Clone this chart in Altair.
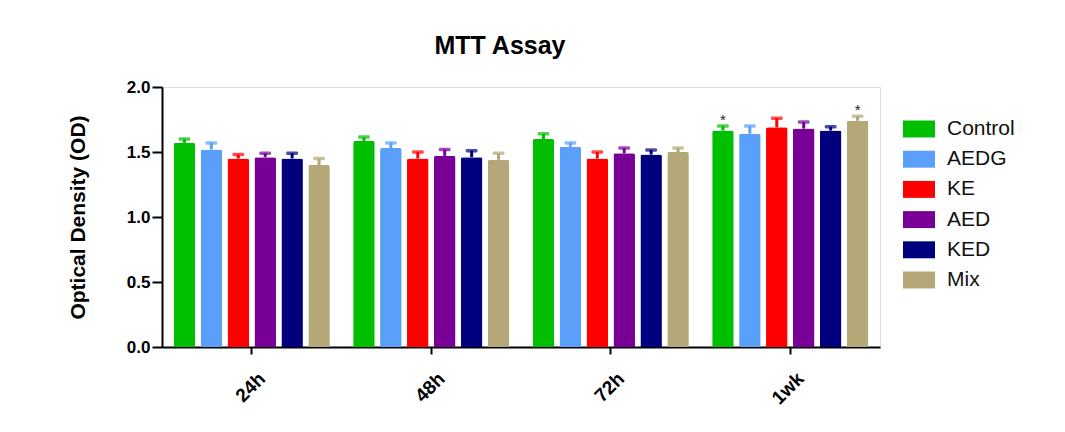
import altair as alt
import pandas as pd

groups = ["24h", "48h", "72h", "1wk"]
series = ["Control", "AEDG", "KE", "AED", "KED", "Mix"]
colors = ["#00BF00", "#5AA0FA", "#FF0000", "#780096", "#00007F", "#B4A878"]

means = {
    "Control": [1.57, 1.585, 1.60, 1.665],
    "AEDG": [1.52, 1.53, 1.54, 1.64],
    "KE": [1.45, 1.45, 1.45, 1.69],
    "AED": [1.46, 1.47, 1.49, 1.68],
    "KED": [1.45, 1.46, 1.48, 1.665],
    "Mix": [1.40, 1.44, 1.50, 1.74],
}
errors = {
    "Control": [0.03, 0.03, 0.04, 0.035],
    "AEDG": [0.05, 0.04, 0.03, 0.06],
    "KE": [0.03, 0.05, 0.05, 0.07],
    "AED": [0.03, 0.05, 0.04, 0.05],
    "KED": [0.04, 0.05, 0.035, 0.03],
    "Mix": [0.05, 0.05, 0.03, 0.035],
}
sig_group = ["1wk", "1wk"]
sig_series = ["Control", "Mix"]

rows = []
for s in series:
    for i, g in enumerate(groups):
        m = means[s][i]
        e = errors[s][i]
        rows.append({"group": g, "series": s, "mean": m, "upper": m + e})
df = pd.DataFrame(rows)

sig = pd.DataFrame({"group": sig_group, "series": sig_series})
sig = sig.merge(df, on=["group", "series"])

FONT = "Liberation Sans"

x = alt.X("group:N", sort=groups,
          scale=alt.Scale(paddingInner=0.1, paddingOuter=0.05),
          axis=alt.Axis(title=None, labelAngle=-45, labelFontSize=19, labelFontWeight="bold",
                        labelFont=FONT, labelColor="black", domainColor="black", domainWidth=2,
                        tickColor="black", tickWidth=2, tickSize=7, labelPadding=15, labelOffset=4))
xo = alt.XOffset("series:N", sort=series, scale=alt.Scale(paddingInner=0.2, paddingOuter=0.1))
y_scale = alt.Scale(domain=[0, 2])

color = alt.Color("series:N", sort=series, scale=alt.Scale(domain=series, range=colors),
                  legend=alt.Legend(title=None, orient="none", legendX=741, legendY=26,
                                    symbolType="M-1,-0.53h2v1.06h-2z", symbolSize=1024,
                                    symbolStrokeWidth=0, symbolOpacity=1,
                                    labelFontSize=21, labelFont=FONT, labelColor="#111",
                                    labelOffset=12, rowPadding=4.2, padding=0))

bars = alt.Chart(df).mark_bar(cornerRadiusTopLeft=2, cornerRadiusTopRight=2).encode(
    x=x, xOffset=xo,
    y=alt.Y("mean:Q", scale=y_scale,
            axis=alt.Axis(title="Optical Density (OD)", values=[0, 0.5, 1.0, 1.5, 2.0], format=".1f",
                          titleFontSize=21, titleFontWeight="bold", titleFont=FONT, titleColor="black",
                          titlePadding=38,
                          labelFontSize=17, labelFontWeight="bold", labelFont=FONT, labelColor="black",
                          domainColor="black", domainWidth=2, tickColor="black", tickWidth=2,
                          tickSize=10, grid=False, labelPadding=2)),
    color=color,
)

err = alt.Chart(df).mark_rule(strokeWidth=3).encode(
    x=x, xOffset=xo, y="mean:Q", y2="upper:Q",
    color=alt.Color("series:N", sort=series, scale=alt.Scale(domain=series, range=colors), legend=None),
)
caps = alt.Chart(df).mark_tick(thickness=3.5, size=12, cornerRadius=1.5).encode(
    x=x, xOffset=xo, y="upper:Q",
    color=alt.Color("series:N", sort=series, scale=alt.Scale(domain=series, range=colors), legend=None),
)
stars = alt.Chart(sig).mark_text(text="*", fontSize=15, dy=2, color="#222", font=FONT,
                                 baseline="bottom").encode(
    x=x, xOffset=xo, y="upper:Q",
)

chart = alt.layer(bars, err, caps, stars).properties(
    width=718, height=260,
    title=alt.TitleParams("MTT Assay", fontSize=25, font=FONT, fontWeight="bold", color="black",
                          anchor="middle", dx=-21, offset=19),
    autosize=alt.AutoSizeParams(type="none"),
    padding={"left": 154, "top": 79, "right": 177, "bottom": 77},
).configure_view(stroke=None).configure(background="white")

chart.save("out.html", embed_options={"renderer": "svg", "actions": False})
